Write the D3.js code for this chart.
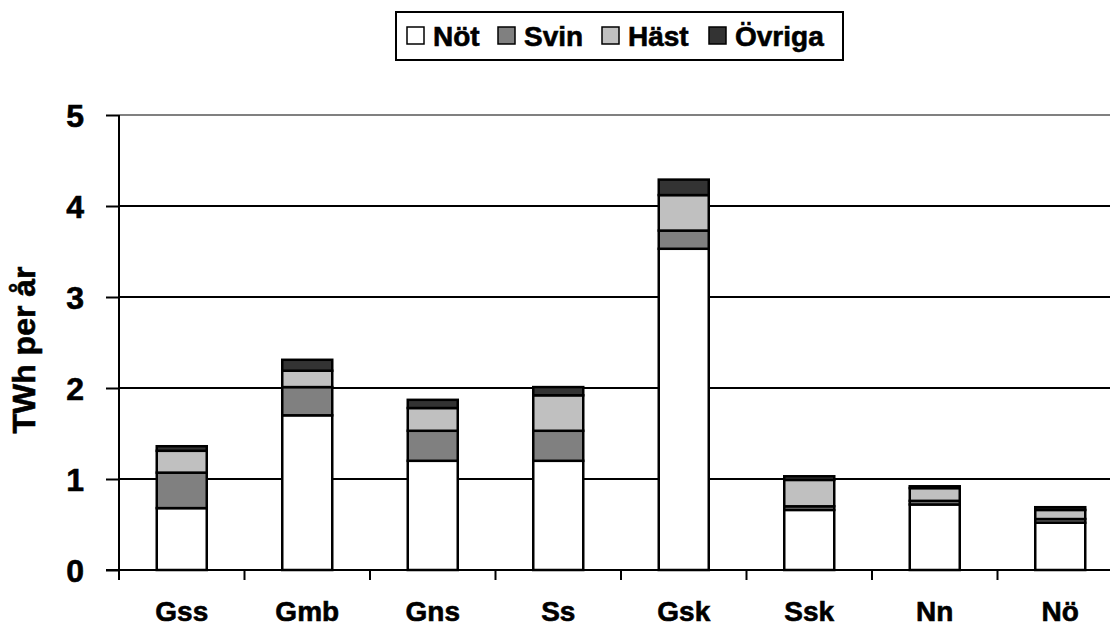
<!DOCTYPE html>
<html>
<head>
<meta charset="utf-8">
<script src="https://cdn.jsdelivr.net/npm/d3@7"></script>
<style>
  body { margin: 0; background: #fff; }
  svg { display: block; font-family: "Liberation Sans", Arial, sans-serif; font-weight: bold; }
  svg text { stroke: #000; stroke-width: 0.6px; }
</style>
</head>
<body>
<svg id="chart" width="1110" height="626"></svg>
<script>
const categories = ["Gss", "Gmb", "Gns", "Ss", "Gsk", "Ssk", "Nn", "Nö"];
const series = ["Nöt", "Svin", "Häst", "Övriga"];
const notValues = [0.68, 1.70, 1.20, 1.20, 3.53, 0.66, 0.72, 0.52];
const svinValues = [0.39, 0.31, 0.33, 0.33, 0.20, 0.04, 0.04, 0.04];
const hastValues = [0.24, 0.18, 0.25, 0.39, 0.39, 0.29, 0.14, 0.10];
const ovrigaValues = [0.05, 0.12, 0.09, 0.09, 0.17, 0.04, 0.02, 0.03];
const yTicks = [0, 1, 2, 3, 4, 5];
const colors = ["#ffffff", "#808080", "#c0c0c0", "#333333"];

const rows = categories.map((c, i) => ({
  cat: c,
  "Nöt": notValues[i],
  "Svin": svinValues[i],
  "Häst": hastValues[i],
  "Övriga": ovrigaValues[i]
}));
const stacked = d3.stack().keys(series)(rows);

const svg = d3.select("#chart");
const plotLeft = 119, plotBottom = 570, plotTop = 115;
const bandW = 125.5;
const fontFam = "'Liberation Sans', Arial, sans-serif";

const x = d3.scaleBand()
  .domain(categories)
  .range([plotLeft, plotLeft + bandW * categories.length])
  .paddingInner(0)
  .paddingOuter(0);
const y = d3.scaleLinear().domain([0, 5]).range([plotBottom, plotTop]);

// gridlines
svg.append("g")
  .selectAll("line")
  .data(yTicks.filter(d => d > 0))
  .join("line")
  .attr("x1", plotLeft)
  .attr("x2", 1110)
  .attr("y1", d => y(d))
  .attr("y2", d => y(d))
  .attr("stroke", d => d === 5 ? "#808080" : "#000")
  .attr("stroke-width", 2);

// bars
const barW = 50;
svg.append("g")
  .selectAll("g")
  .data(stacked)
  .join("g")
  .attr("fill", (d, i) => colors[i])
  .selectAll("rect")
  .data(d => d)
  .join("rect")
  .attr("x", d => x(d.data.cat) + x.bandwidth() / 2 - barW / 2)
  .attr("y", d => y(d[1]))
  .attr("width", barW)
  .attr("height", d => y(d[0]) - y(d[1]))
  .attr("stroke", "#000")
  .attr("stroke-width", 2.5);

// y axis
const yAxis = svg.append("g")
  .attr("transform", `translate(${plotLeft},0)`)
  .call(d3.axisLeft(y).tickValues(yTicks).tickSize(13).tickPadding(22).tickFormat(d3.format("d")));
yAxis.select(".domain").attr("stroke", "#000").attr("stroke-width", 2).attr("d", `M0,${plotTop}V${plotBottom}`);
yAxis.selectAll(".tick line").attr("stroke", "#000").attr("stroke-width", 2);
yAxis.selectAll(".tick text")
  .attr("fill", "#000")
  .style("font-size", "32px")
  .style("font-family", fontFam)
  .style("font-weight", "bold")
  .attr("dy", "0.36em");

// x axis
const xAxis = svg.append("g")
  .attr("transform", `translate(0,${plotBottom})`)
  .call(d3.axisBottom(x).tickSize(0).tickPadding(0));
xAxis.select(".domain").attr("stroke", "#000").attr("stroke-width", 2).attr("d", `M${plotLeft - 13},0H1110`);
xAxis.selectAll(".tick text")
  .attr("fill", "#000")
  .attr("y", 51)
  .attr("dy", null)
  .style("font-size", "28px")
  .style("font-family", fontFam)
  .style("font-weight", "bold");
// category boundary ticks
svg.append("g")
  .selectAll("line")
  .data(categories.map(c => x(c)))
  .join("line")
  .attr("x1", d => d)
  .attr("x2", d => d)
  .attr("y1", plotBottom)
  .attr("y2", plotBottom + 10)
  .attr("stroke", "#000")
  .attr("stroke-width", 2);

// y axis title
svg.append("text")
  .attr("transform", `translate(35,350) rotate(-90)`)
  .attr("text-anchor", "middle")
  .style("font-size", "32px")
  .text("TWh per år");

// legend
const legend = svg.append("g");
legend.append("rect")
  .attr("x", 396).attr("y", 12)
  .attr("width", 447).attr("height", 48)
  .attr("fill", "#fff").attr("stroke", "#000").attr("stroke-width", 2);
const legendX = [407, 498, 602, 709];
const item = legend.selectAll("g.item")
  .data(series)
  .join("g")
  .attr("class", "item")
  .attr("transform", (d, i) => `translate(${legendX[i]},0)`);
item.append("rect")
  .attr("x", 0).attr("y", 27)
  .attr("width", 17).attr("height", 17)
  .attr("fill", (d, i) => colors[i])
  .attr("stroke", "#000").attr("stroke-width", 1.5);
item.append("text")
  .attr("x", 26).attr("y", 46)
  .style("font-size", "28px")
  .text(d => d);
</script>
</body>
</html>
